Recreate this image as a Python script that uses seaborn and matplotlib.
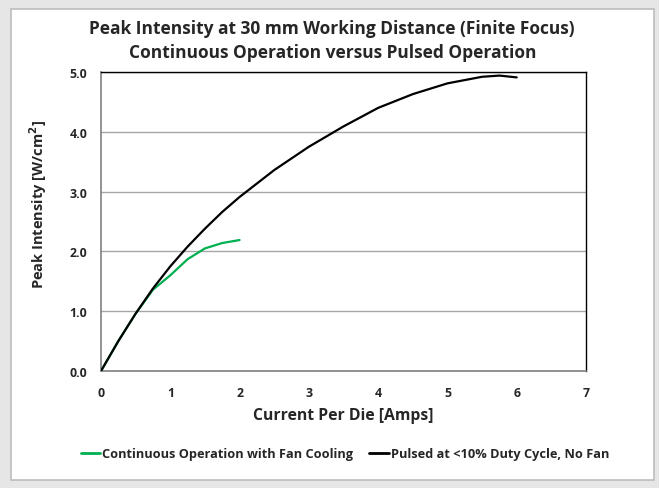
import matplotlib
matplotlib.use("Agg")
import matplotlib.pyplot as plt
import seaborn as sns
import pandas as pd
from matplotlib.patches import Rectangle
from matplotlib.lines import Line2D

# data
pulsed_x = [0, 0.25, 0.5, 0.75, 1.0, 1.25, 1.5, 1.75, 2.0, 2.5, 3.0, 3.5, 4.0, 4.5, 5.0, 5.5, 5.75, 6.0]
pulsed_y = [0, 0.50, 0.96, 1.38, 1.75, 2.08, 2.38, 2.66, 2.91, 3.36, 3.75, 4.09, 4.40, 4.63, 4.81, 4.92, 4.94, 4.91]
cont_x = [0, 0.25, 0.5, 0.75, 1.0, 1.25, 1.5, 1.75, 2.0]
cont_y = [0, 0.50, 0.96, 1.36, 1.60, 1.87, 2.05, 2.14, 2.19]

cont_label = "Continuous Operation with Fan Cooling"
pulsed_label = "Pulsed at <10% Duty Cycle, No Fan"

x_ticks = [0, 1, 2, 3, 4, 5, 6, 7]
y_ticks = [0.0, 1.0, 2.0, 3.0, 4.0, 5.0]

sns.set_theme(style="white")
plt.rcParams["font.family"] = ["Open Sans", "DejaVu Sans"]

W, H = 659, 489
fig = plt.figure(figsize=(W / 100, H / 100), dpi=100)
fig.patch.set_facecolor("#e6e6e6")
# white chart area with a thin grey border
fig.patches.append(Rectangle((11 / W, 1 - 481 / H), 643 / W, 471 / H, transform=fig.transFigure,
                             facecolor="white", edgecolor="#bdbdbd", lw=1.2, zorder=-1))

ax = fig.add_axes([101 / W, 1 - 372 / H, 485 / W, 299 / H])
ax.set_facecolor("white")

cont = pd.DataFrame({"x": cont_x, "y": cont_y})
pulsed = pd.DataFrame({"x": pulsed_x, "y": pulsed_y})
sns.lineplot(data=cont, x="x", y="y", ax=ax, color="#00b050", lw=1.6, zorder=3)
sns.lineplot(data=pulsed, x="x", y="y", ax=ax, color="black", lw=1.6, zorder=4)

ax.set_xlim(0, 7)
ax.set_ylim(0, 5)
ax.set_xticks(x_ticks)
ax.set_yticks(y_ticks)
ax.set_xticklabels([str(t) for t in x_ticks], fontweight="bold", fontsize=8.8)
ax.set_yticklabels([f"{t:.1f}" for t in y_ticks], fontweight="bold", fontsize=8.8)
ax.tick_params(axis="both", direction="out", length=4, width=1, color="#808080", pad=6)
ax.tick_params(axis="x", pad=7)
ax.yaxis.grid(True, color="#a6a6a6", lw=1)
ax.set_axisbelow(True)
for s in ["left", "bottom"]:
    ax.spines[s].set_color("#808080")
    ax.spines[s].set_linewidth(1.2)
for s in ["top", "right"]:
    ax.spines[s].set_color("black")
    ax.spines[s].set_linewidth(1.0)

ax.set_xlabel("")
ax.set_ylabel("")
fig.text(343 / W, 1 - 416 / H, "Current Per Die [Amps]", ha="center", va="center",
         fontsize=11.3, fontweight="bold")
fig.text(38 / W, 1 - 204 / H, "Peak Intensity [W/cm$^\\mathbf{2}$]", ha="center", va="center",
         rotation=90, fontsize=10.5, fontweight="bold")
fig.text(332 / W, 1 - 29 / H, "Peak Intensity at 30 mm Working Distance (Finite Focus)",
         ha="center", va="center", fontsize=12.5, fontweight="bold")
fig.text(333 / W, 1 - 53 / H, "Continuous Operation versus Pulsed Operation",
         ha="center", va="center", fontsize=12.5, fontweight="bold")

handles = [Line2D([], [], color="#00b050", lw=2), Line2D([], [], color="black", lw=2)]
leg = fig.legend(handles, [cont_label, pulsed_label], loc="center", bbox_to_anchor=(345 / W, 1 - 455 / H),
                 ncol=2, frameon=False, handlelength=1.55, handletextpad=0.15, columnspacing=1.25,
                 prop={"weight": "bold", "size": 9.2})

fig.savefig("out.png", dpi=100, facecolor=fig.get_facecolor())
